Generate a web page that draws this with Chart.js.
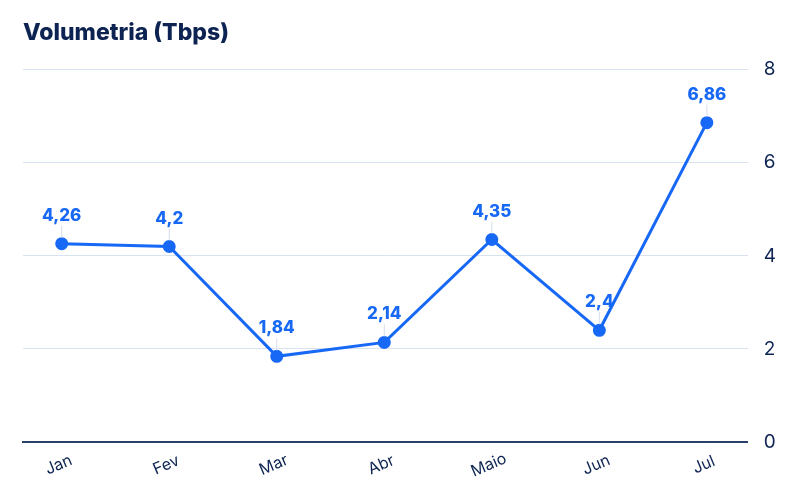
<!DOCTYPE html>
<html>
<head>
<meta charset="utf-8">
<script src="https://cdn.jsdelivr.net/npm/chart.js@4"></script>
<style>
  html, body { margin: 0; padding: 0; background: #fff; }
  #wrap { width: 800px; height: 494px; }
</style>
</head>
<body>
<div id="wrap"><canvas id="myChart"></canvas></div>
<script>
// dados do gráfico
const months = ['Jan', 'Fev', 'Mar', 'Abr', 'Maio', 'Jun', 'Jul'];
const volumes = [4.26, 4.2, 1.84, 2.14, 4.35, 2.4, 6.86];
const yTicks = [0, 2, 4, 6, 8];

const blue = '#1769f5';
const navy = '#0d2452';

// rótulos de valor acima dos pontos, com linha guia
const valueLabels = {
    id: 'valueLabels',
    afterDatasetsDraw(chart) {
        const ctx = chart.ctx;
        const meta = chart.getDatasetMeta(0);
        ctx.save();
        meta.data.forEach((pt, i) => {
            ctx.strokeStyle = '#d5deec';
            ctx.lineWidth = 1;
            ctx.beginPath();
            ctx.moveTo(pt.x, pt.y - 6);
            ctx.lineTo(pt.x, pt.y - 18);
            ctx.stroke();
            ctx.fillStyle = blue;
            ctx.font = '800 17px Inter';
            ctx.textAlign = 'center';
            ctx.textBaseline = 'middle';
            ctx.fillText(String(volumes[i]).replace('.', ','), pt.x, pt.y - 28);
        });
        ctx.restore();
    }
};

// meses inclinados e centrados no ponto
const monthLabels = {
    id: 'monthLabels',
    afterDraw(chart) {
        const ctx = chart.ctx;
        const xs = chart.scales.x;
        const y = chart.chartArea.bottom + 23;
        ctx.save();
        ctx.fillStyle = navy;
        ctx.font = '16px Inter';
        ctx.textAlign = 'center';
        ctx.textBaseline = 'middle';
        months.forEach((m, i) => {
            ctx.save();
            ctx.translate(xs.getPixelForValue(i) - 3, y);
            ctx.rotate(-23 * Math.PI / 180);
            ctx.fillText(m, 0, 0);
            ctx.restore();
        });
        ctx.restore();
    }
};

const ctx = document.getElementById('myChart').getContext('2d');
const myChart = new Chart(ctx, {
    type: 'line',
    data: {
        datasets: [{
            label: 'Volumetria',
            data: volumes.map((v, i) => ({ x: i, y: v })),
            borderColor: blue,
            backgroundColor: blue,
            borderWidth: 3,
            pointRadius: 5,
            pointHoverRadius: 5,
            tension: 0
        }]
    },
    options: {
        responsive: true,
        maintainAspectRatio: false,
        animation: false,
        layout: { padding: { left: 23, right: 8, top: 9, bottom: 52 } },
        plugins: {
            legend: { display: false },
            tooltip: { enabled: false },
            title: {
                display: true,
                text: 'Volumetria (Tbps)',
                align: 'start',
                color: navy,
                font: { family: 'Inter', size: 23, weight: '800' },
                padding: { top: 10, bottom: 23 }
            }
        },
        scales: {
            x: {
                type: 'linear',
                min: -0.36,
                max: 6.38,
                ticks: { display: false, stepSize: 1 },
                grid: { drawOnChartArea: false, drawTicks: false },
                border: { color: '#2b3f6b', width: 2 }
            },
            y: {
                position: 'right',
                min: 0,
                max: 8,
                afterBuildTicks(scale) {
                    scale.ticks = yTicks.map(v => ({ value: v }));
                },
                ticks: {
                    color: navy,
                    font: { family: 'Inter', size: 19 },
                    padding: 16
                },
                grid: {
                    drawTicks: false,
                    color: c => c.tick && c.tick.value === 0 ? 'transparent' : '#d9e2f1'
                },
                border: { display: false }
            }
        }
    },
    plugins: [valueLabels, monthLabels]
});
</script>
</body>
</html>
